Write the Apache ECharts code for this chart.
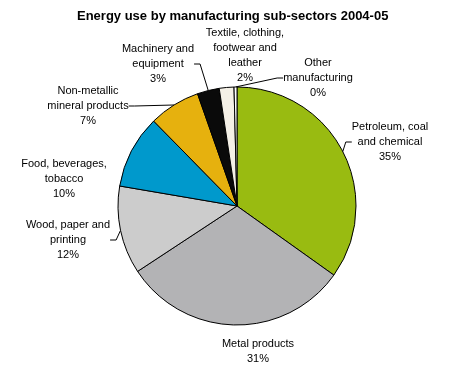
<!DOCTYPE html>
<html><head><meta charset="utf-8">
<script src="https://cdn.jsdelivr.net/npm/echarts@6/dist/echarts.min.js"></script>
<style>html,body{margin:0;padding:0;background:#fff}#c{width:452px;height:369px}</style>
</head><body><div id="c"></div>
<script>
const categories = ["Petroleum, coal\nand chemical","Metal products","Wood, paper and\nprinting","Food, beverages,\ntobacco","Non-metallic\nmineral products","Machinery and\nequipment","Textile, clothing,\nfootwear and\nleather","Other\nmanufacturing"];
const values = [35, 31, 12, 10, 7, 3, 2, 0.4];
const colors = ["#99bb11","#b3b3b5","#cccccc","#0099cc","#e6b10e","#0a0a0a","#f4f0e6","#ffffff"];
const labelPos = [[390,142],[258,351],[68,240],[64,179],[88,106],[158,64],[245,55],[318,78]];
const showLine = [true,false,true,false,true,true,false,true];

const chart = echarts.init(document.getElementById('c'), null, {renderer:'canvas'});
chart.setOption({
  animation:false,
  title:{text:'Energy use by manufacturing sub-sectors 2004-05',left:72,top:5,
    textStyle:{fontFamily:'Liberation Sans, Arial',fontSize:13,fontWeight:'bold',color:'#000'}},
  series:[{
    type:'pie',
    center:[237,206],
    radius:119,
    startAngle:90,
    clockwise:true,
    avoidLabelOverlap:false,
    itemStyle:{borderColor:'#000',borderWidth:1},
    label:{show:true,position:'outside',fontFamily:'Liberation Sans, Arial',fontSize:11,color:'#000',lineHeight:15,align:'center',
      formatter:p=>p.name+'\n'+Math.round(p.value)+'%'},
    labelLine:{show:true,length:6,length2:6,lineStyle:{color:'#000',width:1}},
    labelLayout:function(params){
      const i=params.dataIndex;
      return {x:labelPos[i][0],y:labelPos[i][1],align:'center',verticalAlign:'middle'};
    },
    data:categories.map((c,i)=>({name:c,value:values[i],itemStyle:{color:colors[i]},labelLine:{show:showLine[i]}}))
  }]
});
</script></body></html>
